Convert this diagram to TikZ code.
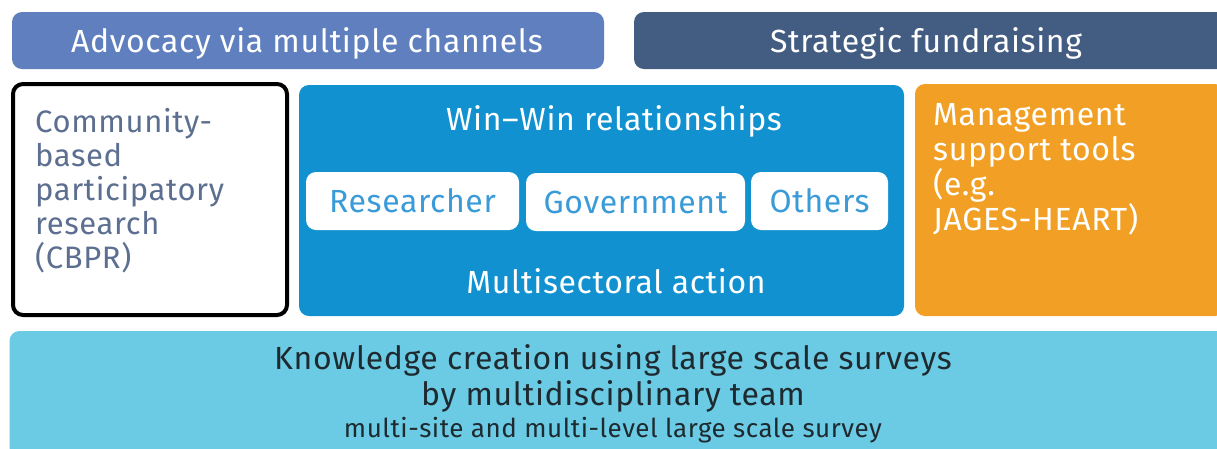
\documentclass[tikz,border=0pt]{standalone}
\usepackage{fontspec}
\usepackage{graphicx}
\setmainfont{Fira Sans}[LetterSpace=2]
\usetikzlibrary{positioning}

\definecolor{advblue}{HTML}{5F7FBE}
\definecolor{funddark}{HTML}{435C82}
\definecolor{winblue}{HTML}{1191CF}
\definecolor{mgmtorange}{HTML}{F1A025}
\definecolor{knowcyan}{HTML}{6BCBE4}
\definecolor{cbprtext}{HTML}{5C6F90}
\definecolor{partytext}{HTML}{3A9BD8}
\definecolor{knowtext}{HTML}{1E2A30}

\tikzset{
  panel/.style={rounded corners=10pt, inner sep=0pt},
  party/.style={panel, fill=white, text=partytext, minimum height=58pt,
    font=\fontsize{32}{36}\selectfont},
  title/.style={text=white, font=\fontsize{32}{36}\selectfont}
}

\begin{document}
\begin{tikzpicture}[x=1pt,y=-1pt]
    \useasboundingbox[fill=white] (0,0) rectangle (1217,448);

    % Top row
    \node[panel, fill=advblue, minimum width=592pt, minimum height=57pt] (advocacy) at (308,40.5) {};
    \node[title] (advtext) at (307,43) {Advocacy via multiple channels};
    \node[panel, fill=funddark, minimum width=600pt, minimum height=57pt] (fund) at (934,40.5) {};
    \node[title] (fundtext) at (926,43) {Strategic fundraising};

    % CBPR
    \node[panel, draw=black, line width=4pt, fill=white, minimum width=274pt, minimum height=231pt] (cbpr) at (150,199.5) {};
    \node[anchor=north west, align=left, inner sep=0pt, text=cbprtext,
          font=\fontsize{31}{34}\selectfont] (cbprtext) at (35,108)
          {Community-\\based\\participatory\\research\\(CBPR)};

    % Multisectoral action
    \node[panel, fill=winblue, minimum width=605pt, minimum height=231pt] (winwin) at (601.5,200.5) {};
    \node[title] (wintitle) at (614,121) {Win--Win relationships};
    \node[party, minimum width=213pt] (researcher) at (412.5,201) {Researcher};
    \node[party, minimum width=219pt] (government) at (635.5,202) {Government};
    \node[party, minimum width=137pt] (others) at (819.5,201) {Others};
    \node[title] (multisect) at (616,281) {Multisectoral action};

    % Management tools
    \node[panel, fill=mgmtorange, minimum width=310pt, minimum height=232pt] (mgmt) at (1070,200) {};
    \node[anchor=north west, align=left, inner sep=0pt, text=white,
          font=\fontsize{32}{35}\selectfont] (mgmttext) at (933,103)
          {Management\\support tools\\(e.g.\\JAGES-HEART)};

    % Knowledge creation
    \node[panel, fill=knowcyan, minimum width=1217pt, minimum height=130pt] (know) at (618,396) {};
    \node[text=knowtext, align=center, font=\fontsize{32}{36}\selectfont] (knowtext) at (613,378)
          {Knowledge creation using large scale surveys\\
           by multidisciplinary team};
    \node[text=knowtext, font=\fontsize{26}{28}\selectfont] (survey) at (613,430)
          {multi-site and multi-level large scale survey};
\end{tikzpicture}
\end{document}
